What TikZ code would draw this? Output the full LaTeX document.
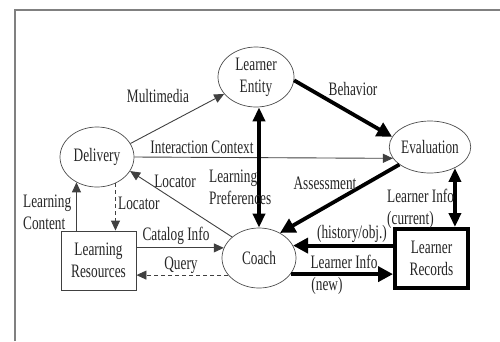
\documentclass[tikz,border=0pt]{standalone}
\usepackage{fontspec}
\setmainfont[FakeStretch=0.7]{Liberation Serif}
\usetikzlibrary{shapes.geometric,arrows.meta}
\begin{document}
\begin{tikzpicture}[x=1pt,y=-1pt,
  every node/.style={font=\fontsize{19}{22}\selectfont, text=black!85},
  ell/.style={ellipse, draw=black!70, line width=0.7pt, inner sep=0pt, align=center},
  thinbox/.style={rectangle, draw=black!75, line width=0.9pt, inner sep=0pt, align=center},
  thickbox/.style={rectangle, draw=black, line width=4pt, inner sep=0pt, align=center},
  lbl/.style={inner sep=0pt, align=left},
  thin/.style={draw=black!75, line width=0.9pt, -{Triangle[length=10pt,width=9pt]}},
  thindash/.style={thin, dashed, dash pattern=on 4pt off 3pt},
  thick4/.style={draw=black, line width=3.8pt, -{Triangle[length=15pt,width=15pt]}},
  thick4d/.style={draw=black, line width=3.5pt, {Triangle[length=14pt,width=12pt]}-{Triangle[length=14pt,width=12pt]}},
  frameline/.style={draw=black!50, line width=1.5pt}
]
\useasboundingbox (0,0) rectangle (500,341);
\coordinate (fbl) at (15,341);
\coordinate (ftl) at (15,10);
\coordinate (ftr) at (500,10);
\draw[frameline] (fbl) -- (ftl) -- (ftr);

% nodes
\node[ell, minimum width=76pt, minimum height=60pt] (le) at (256,77) {Learner\\Entity};
\node[ell, minimum width=74pt, minimum height=60pt] (del) at (97,157) {Delivery};
\node[ell, minimum width=74pt, minimum height=52pt] (ev) at (430,147) {Evaluation};
\node[ell, minimum width=74pt, minimum height=60pt] (coach) at (259,258) {Coach};
\node[thinbox, minimum width=75pt, minimum height=59pt] (lr) at (98.5,260.5) {Learning\\Resources};
\node[thickbox, minimum width=73pt, minimum height=59pt] (lrec) at (431.5,258.5) {Learner\\Records};

% connectors
\draw[thin] (del.22) -- (le.208);
\draw[thick4] (le.-5) -- (ev.165);
\draw[thin] (del.0) -- (ev.197);
\draw[thick4d] (coach.north |- le.south) -- (coach.north);
\draw[thin] (coach.142) -- (del.337);
\draw[thindash] (del.-55) -- (del.-55 |- lr.north);
\draw[thin] (lr.north -| del.231) -- (del.231);
\draw[thin] (coach.164 -| lr.east) -- (coach.164);
\draw[thindash] (coach.209) -- (coach.209 -| lr.east);
\draw[thick4] (ev) -- (coach.50);
\draw[thick4d] (ev.-40) -- (ev.-40 |- lrec.north);
\draw[thick4] (coach.20 -| lrec.west) -- (coach.20);
\draw[thick4] (coach.-27) -- (coach.-27 -| lrec.west);

% labels
\node[lbl] (tmm) at (158,96) {Multimedia};
\node[lbl] (tbeh) at (353,89) {Behavior};
\node[lbl] (tic) at (202,147) {Interaction Context};
\node[lbl, anchor=west] (tlp) at (209,187) {Learning\\Preferences};
\node[lbl] (tloc1) at (175,181) {Locator};
\node[lbl, anchor=west] (tloc2) at (118,203) {Locator};
\node[lbl, anchor=west] (tlc) at (23,212) {Learning\\Content};
\node[lbl] (tcat) at (176,236) {Catalog Info};
\node[lbl] (tq) at (181,265) {Query};
\node[lbl] (tas) at (325,183) {Assessment};
\node[lbl, anchor=west] (tli) at (387,209) {Learner Info\\(current)};
\node[lbl] (thist) at (352,234) {(history/obj.)};
\node[lbl] (tlin) at (344,262) {Learner Info};
\node[lbl] (tnew) at (327,286) {(new)};
\end{tikzpicture}
\end{document}
